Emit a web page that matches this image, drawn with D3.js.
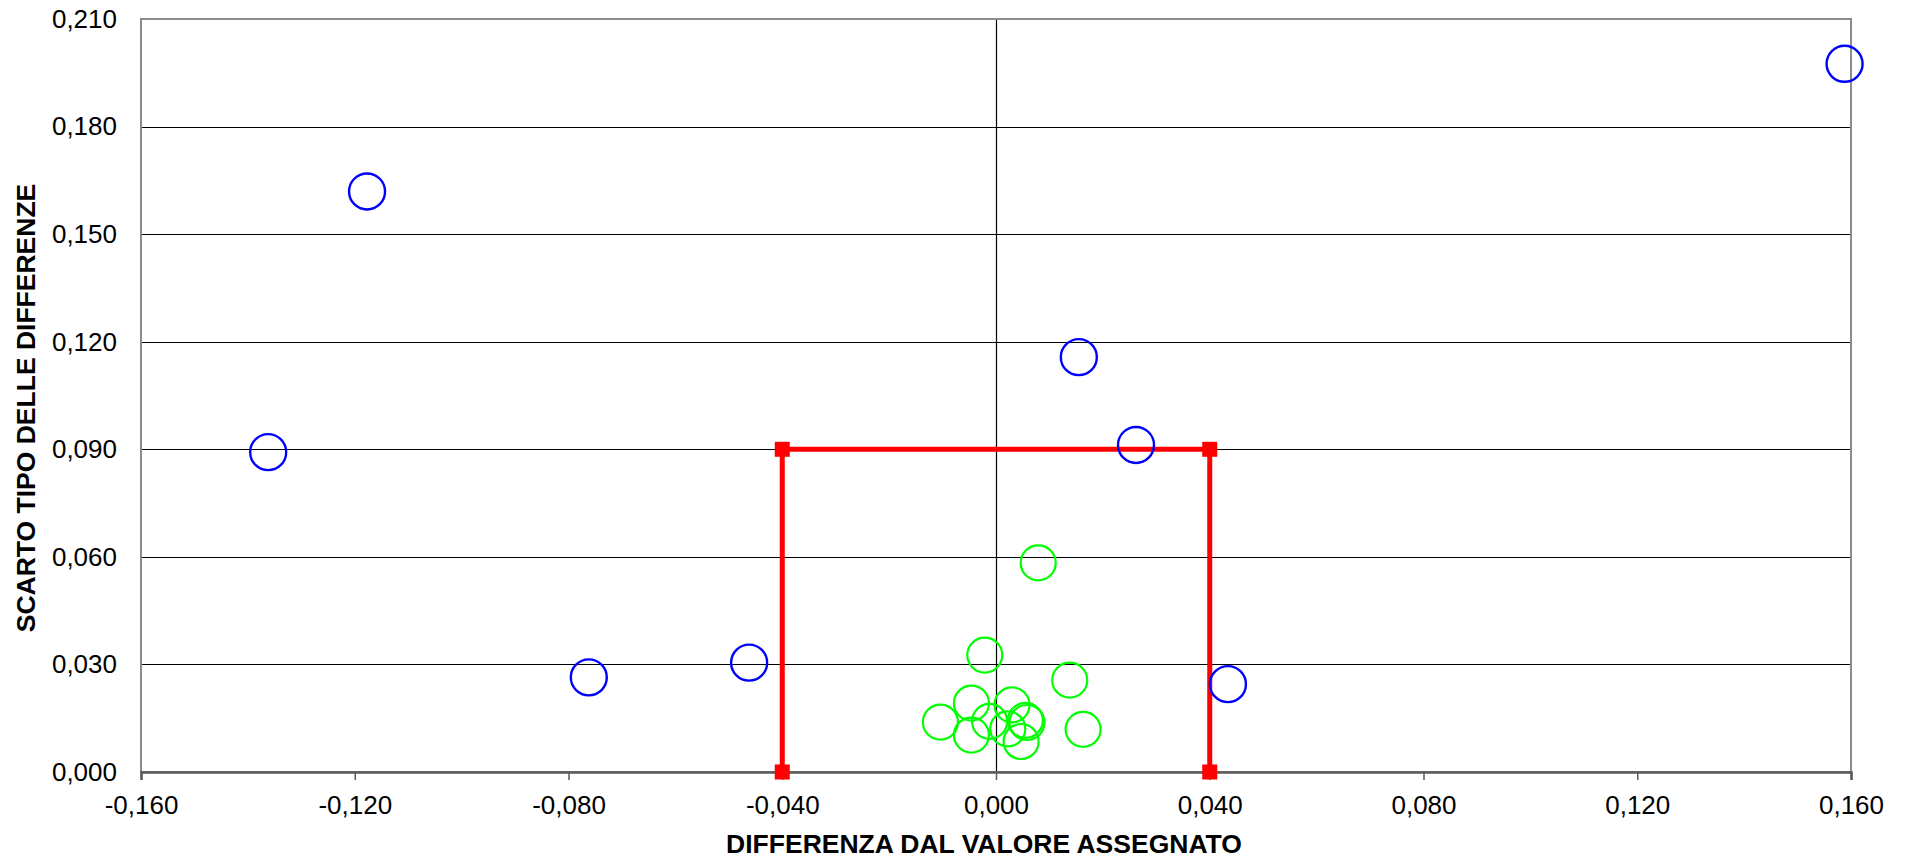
<!DOCTYPE html>
<html lang="it">
<head>
    <meta charset="UTF-8">
    <title>Scarto tipo delle differenze</title>
    <script src="https://d3js.org/d3.v7.min.js"></script>
    <style>
        html, body { margin: 0; padding: 0; background: #ffffff; }
        svg text { font-family: "Liberation Sans", Arial, sans-serif; fill: #000; }
        .tick-label { font-size: 26px; }
        .axis-title { font-size: 26.5px; font-weight: bold; }
    </style>
</head>
<body>
<div id="chart"></div>

<script>
// Laboratori fuori dal riquadro (blu)
const bluX = [0.1588, -0.1177, -0.1362, 0.0155, 0.0262, -0.0762, -0.0462, 0.0434];
const bluY = [0.1975, 0.1619, 0.0892, 0.1157, 0.0912, 0.0264, 0.0305, 0.0245];

// Laboratori dentro il riquadro (verde)
const verdeX = [-0.0021, 0.0138, -0.0046, 0.0030, -0.0104, -0.0046, -0.0012, 0.0022, 0.0055, 0.0058, 0.0047, 0.0163, 0.0079];
const verdeY = [0.0326, 0.0256, 0.0192, 0.0187, 0.0139, 0.0103, 0.0141, 0.0120, 0.0144, 0.0138, 0.0085, 0.0119, 0.0583];

// Limiti di accettabilità (riquadro rosso)
const limiteX = [-0.04, -0.04, 0.04, 0.04];
const limiteY = [0.000, 0.090, 0.090, 0.000];

// Valori delle tacche
const tickX = [-0.16, -0.12, -0.08, -0.04, 0, 0.04, 0.08, 0.12, 0.16];
const tickY = [0, 0.03, 0.06, 0.09, 0.12, 0.15, 0.18, 0.21];

const W = 1906, H = 861;
const margin = {top: 19, right: 55, bottom: 89, left: 141};
const width = W - margin.left - margin.right;
const height = H - margin.top - margin.bottom;

// Formato italiano: virgola decimale, trattino come meno
const it = d3.formatLocale({decimal: ",", thousands: ".", grouping: [3], currency: ["€", ""], minus: "-"});
const fmt = it.format(".3f");

const svg = d3.select("#chart").append("svg")
    .attr("width", W)
    .attr("height", H);

const g = svg.append("g")
    .attr("transform", `translate(${margin.left},${margin.top})`);

const x = d3.scaleLinear().domain([-0.16, 0.16]).range([0, width]);
const y = d3.scaleLinear().domain([0, 0.21]).range([height, 0]);

// Griglia orizzontale
g.append("g")
    .selectAll("line")
    .data(tickY.filter(v => v > 0 && v < 0.21))
    .enter().append("line")
    .attr("x1", 0)
    .attr("x2", width)
    .attr("y1", d => Math.round(y(d)) + 0.5)
    .attr("y2", d => Math.round(y(d)) + 0.5)
    .attr("stroke", "#000")
    .attr("stroke-width", 1.2);

// Linea verticale sullo zero
g.append("line")
    .attr("x1", Math.round(x(0)) + 0.5)
    .attr("x2", Math.round(x(0)) + 0.5)
    .attr("y1", 0)
    .attr("y2", height)
    .attr("stroke", "#000")
    .attr("stroke-width", 1.2);

// Cornice dell'area del grafico
g.append("rect")
    .attr("x", 0)
    .attr("y", 0)
    .attr("width", width)
    .attr("height", height)
    .attr("fill", "none")
    .attr("stroke", "#8c8c8c")
    .attr("stroke-width", 2);

// Asse X
const xAxis = g.append("g")
    .attr("transform", `translate(0,${height})`)
    .call(d3.axisBottom(x).tickValues(tickX).tickSize(8).tickPadding(16).tickFormat(fmt));
xAxis.select(".domain").attr("stroke", "#5a5a5a").attr("stroke-width", 2.5);
xAxis.selectAll(".tick line").attr("stroke", "#5a5a5a").attr("stroke-width", 1.5);
xAxis.selectAll(".tick text")
    .attr("class", "tick-label")
    .attr("fill", "#000");
xAxis.attr("font-size", null).attr("font-family", null);

// Asse Y (solo etichette)
const yAxis = g.append("g")
    .call(d3.axisLeft(y).tickValues(tickY).tickSize(0).tickPadding(24).tickFormat(fmt));
yAxis.select(".domain").remove();
yAxis.selectAll(".tick text")
    .attr("class", "tick-label")
    .attr("fill", "#000");
yAxis.attr("font-size", null).attr("font-family", null);

// Riquadro rosso dei limiti
const limiti = limiteX.map((v, i) => ({x: v, y: limiteY[i]}));
const linea = d3.line().x(d => x(d.x)).y(d => y(d.y));

g.append("path")
    .datum(limiti)
    .attr("fill", "none")
    .attr("stroke", "#ff0000")
    .attr("stroke-width", 5)
    .attr("d", linea);

g.selectAll(".quadrato")
    .data(limiti)
    .enter().append("rect")
    .attr("class", "quadrato")
    .attr("x", d => x(d.x) - 7.5)
    .attr("y", d => y(d.y) - 7.5)
    .attr("width", 15)
    .attr("height", 15)
    .attr("fill", "#ff0000");

// Cerchi verdi
g.selectAll(".verde")
    .data(verdeX.map((v, i) => ({x: v, y: verdeY[i]})))
    .enter().append("circle")
    .attr("class", "verde")
    .attr("cx", d => x(d.x))
    .attr("cy", d => y(d.y))
    .attr("r", 17.5)
    .attr("fill", "none")
    .attr("stroke", "#00ff00")
    .attr("stroke-width", 2.2);

// Cerchi blu
g.selectAll(".blu")
    .data(bluX.map((v, i) => ({x: v, y: bluY[i]})))
    .enter().append("circle")
    .attr("class", "blu")
    .attr("cx", d => x(d.x))
    .attr("cy", d => y(d.y))
    .attr("r", 18)
    .attr("fill", "none")
    .attr("stroke", "#0000ff")
    .attr("stroke-width", 2.4);

// Titoli degli assi
svg.append("text")
    .attr("class", "axis-title")
    .attr("x", 984)
    .attr("y", 853)
    .attr("text-anchor", "middle")
    .text("DIFFERENZA DAL VALORE ASSEGNATO");

svg.append("text")
    .attr("class", "axis-title")
    .attr("transform", "translate(35,408) rotate(-90)")
    .attr("text-anchor", "middle")
    .text("SCARTO TIPO DELLE DIFFERENZE");
</script>

</body>
</html>
